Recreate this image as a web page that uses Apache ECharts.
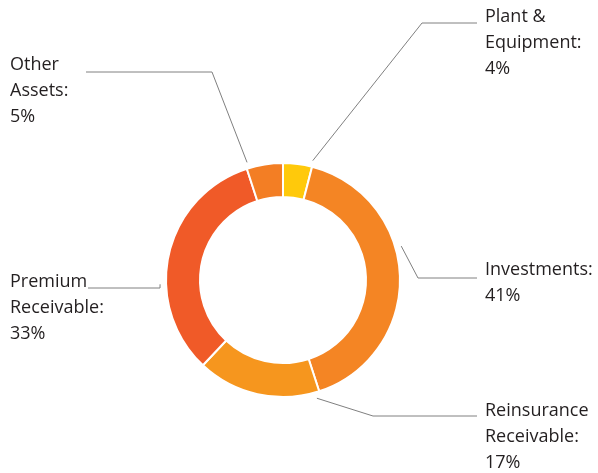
<!DOCTYPE html>
<html>
<head>
<meta charset="utf-8">
<script src="https://cdn.jsdelivr.net/npm/echarts@6/dist/echarts.min.js"></script>
<style>
  html, body { margin: 0; padding: 0; background: #fff; }
  #chart { width: 598px; height: 473px; }
</style>
</head>
<body>
<div id="chart"></div>
<script>
// Asset mix (percent of total)
const categories = ['Plant &\nEquipment', 'Investments', 'Reinsurance\nReceivable', 'Premium\nReceivable', 'Other\nAssets'];
const shares = [4, 41, 17, 33, 5];
const colors = ['#FFC90B', '#F48524', '#F6961E', '#F05A28', '#F37E24'];

// Ring geometry (px)
const cx = 283, cy = 280, rIn = 83, rOut = 117;

// Label placement: text box top-left, leader start angle (deg clockwise from 12 o'clock),
// elbow point and end of the horizontal run.
const labelPlacement = [
  { x: 485, y: 4,   angle: 14,  elbow: [422, 23],  end: [477, 23] },
  { x: 485, y: 257, angle: 74,  elbow: [418, 278], end: [477, 278] },
  { x: 485, y: 398, angle: 164, elbow: [373, 416], end: [477, 416] },
  { x: 10,  y: 269, angle: 268, elbow: [160, 288], end: [88, 288] },
  { x: 10,  y: 52,  angle: 343, elbow: [212, 72],  end: [86, 72] }
];

const chart = echarts.init(document.getElementById('chart'), null, { renderer: 'canvas' });

chart.setOption({
  animation: false,
  backgroundColor: '#ffffff',
  series: [{
    type: 'pie',
    center: [cx, cy],
    radius: [rIn, rOut],
    startAngle: 90,
    clockwise: true,
    avoidLabelOverlap: false,
    itemStyle: { borderColor: '#ffffff', borderWidth: 2 },
    label: {
      show: true,
      position: 'outside',
      formatter: '{b}:\n{d}%',
      fontFamily: 'Open Sans',
      fontSize: 18,
      lineHeight: 26,
      color: '#231F20'
    },
    labelLine: {
      show: true,
      lineStyle: { color: '#808080', width: 1 }
    },
    labelLayout: function (params) {
      const p = labelPlacement[params.dataIndex];
      const a = p.angle * Math.PI / 180;
      const r = rOut + 6;
      const start = [cx + r * Math.sin(a), cy - r * Math.cos(a)];
      return {
        x: p.x,
        y: p.y,
        align: 'left',
        verticalAlign: 'top',
        labelLinePoints: [start, p.elbow, p.end]
      };
    },
    data: categories.map((name, i) => ({
      name: name,
      value: shares[i],
      itemStyle: { color: colors[i] }
    }))
  }]
});
</script>
</body>
</html>
